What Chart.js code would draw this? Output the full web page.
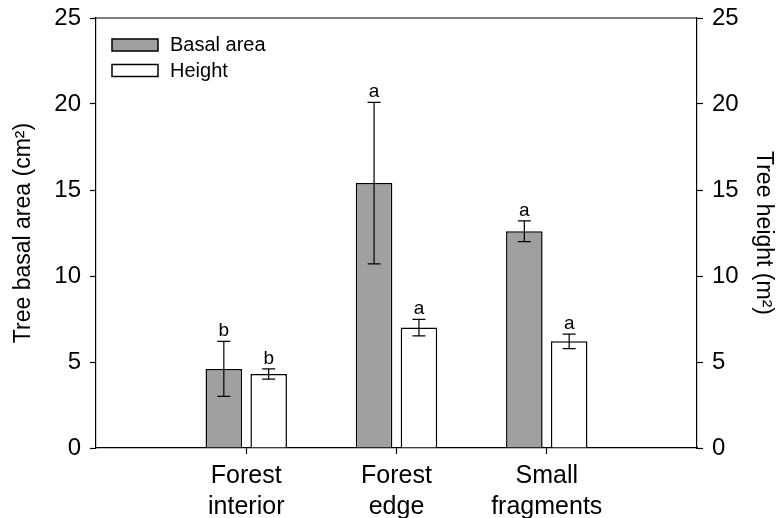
<!DOCTYPE html>
<html>
<head>
<meta charset="utf-8">
<script src="https://cdn.jsdelivr.net/npm/chart.js@4"></script>
<style>
  html, body { margin: 0; padding: 0; background: #fff; }
  #wrap { width: 783px; height: 518px; }
</style>
</head>
<body>
<div id="wrap"><canvas id="chart" width="783" height="518"></canvas></div>
<script>
// Data
const categories = [['Forest', 'interior'], ['Forest', 'edge'], ['Small', 'fragments']];
const basalArea = [4.6, 15.4, 12.6];
const basalErr = [1.6, 4.7, 0.6];
const basalLetters = ['b', 'a', 'a'];
const treeHeight = [4.3, 7.0, 6.2];
const heightErr = [0.3, 0.48, 0.42];
const heightLetters = ['b', 'a', 'a'];
const yTicks = [0, 5, 10, 15, 20, 25];

// empty slot on both sides so the groups sit at 1, 2, 3 on a 0..4 axis
const pad = arr => [null, ...arr, null];
const labels = ['', ...categories, ''];

const FONT = "'Liberation Sans', Arial, sans-serif";

// error bars + significance letters
const errorBarPlugin = {
    id: 'errorBars',
    afterDatasetsDraw(chart) {
        const ctx = chart.ctx;
        ctx.save();
        ctx.strokeStyle = '#000';
        ctx.fillStyle = '#000';
        ctx.lineWidth = 1.2;
        ctx.font = '19px ' + FONT;
        ctx.textAlign = 'center';
        ctx.textBaseline = 'alphabetic';
        chart.data.datasets.forEach((ds, i) => {
            const meta = chart.getDatasetMeta(i);
            const scale = chart.scales[ds.yAxisID];
            meta.data.forEach((bar, j) => {
                const v = ds.data[j];
                if (v == null) return;
                const e = ds.errors[j];
                const x = bar.x;
                const yTop = scale.getPixelForValue(v + e);
                const yBot = scale.getPixelForValue(v - e);
                ctx.beginPath();
                ctx.moveTo(x, yTop); ctx.lineTo(x, yBot);
                ctx.moveTo(x - 6.5, yTop); ctx.lineTo(x + 6.5, yTop);
                ctx.moveTo(x - 6.5, yBot); ctx.lineTo(x + 6.5, yBot);
                ctx.stroke();
                ctx.fillText(ds.letters[j], x, yTop - 5);
            });
        });
        ctx.restore();
    }
};

// top frame line and legend inside the plot
const framePlugin = {
    id: 'frame',
    afterDraw(chart) {
        const { ctx, chartArea } = chart;
        ctx.save();
        ctx.strokeStyle = '#000';
        ctx.lineWidth = 1.2;
        ctx.beginPath();
        ctx.moveTo(chartArea.left, chartArea.top);
        ctx.lineTo(chartArea.right, chartArea.top);
        ctx.stroke();

        ctx.font = '20px ' + FONT;
        ctx.textBaseline = 'middle';
        ctx.textAlign = 'left';
        chart.data.datasets.forEach((ds, i) => {
            const bx = chartArea.left + 16;
            const by = chartArea.top + 21 + i * 25.5;
            ctx.fillStyle = ds.backgroundColor;
            ctx.fillRect(bx, by, 46, 12);
            ctx.lineWidth = 1.5;
            ctx.strokeRect(bx, by, 46, 12);
            ctx.fillStyle = '#000';
            ctx.fillText(ds.label, bx + 58, by + 6.5);
        });
        ctx.restore();
    }
};

// keep the plot box fixed: no extra room for half tick labels
const fixY = width => s => {
    s.width = width;
    s.paddingTop = 0;
    s.paddingBottom = 0;
};

new Chart(document.getElementById('chart'), {
    type: 'bar',
    data: {
        labels: labels,
        datasets: [{
            label: 'Basal area',
            data: pad(basalArea),
            errors: pad(basalErr),
            letters: pad(basalLetters),
            backgroundColor: '#a0a0a0',
            borderColor: '#000',
            borderWidth: 1.5,
            yAxisID: 'y'
        }, {
            label: 'Height',
            data: pad(treeHeight),
            errors: pad(heightErr),
            letters: pad(heightLetters),
            backgroundColor: '#ffffff',
            borderColor: '#000',
            borderWidth: 1.5,
            yAxisID: 'y2'
        }]
    },
    options: {
        responsive: false,
        animation: false,
        categoryPercentage: 0.597,
        barPercentage: 0.815,
        layout: { padding: { top: 18, right: 0, left: 0, bottom: 0 } },
        plugins: {
            legend: { display: false },
            tooltip: { enabled: false }
        },
        scales: {
            x: {
                offset: false,
                grid: {
                    offset: false,
                    drawOnChartArea: false,
                    tickLength: 6,
                    tickColor: c => (c.index === 0 || c.index === labels.length - 1) ? 'rgba(0,0,0,0)' : '#000',
                    tickWidth: 1.2
                },
                border: { color: '#000', width: 1.2 },
                ticks: {
                    color: '#000',
                    font: { family: FONT, size: 25, lineHeight: 1.22 },
                    padding: 7,
                    maxRotation: 0,
                    autoSkip: false
                },
                afterFit: s => { s.height = 70; s.paddingLeft = 0; s.paddingRight = 0; }
            },
            y: {
                position: 'left',
                min: 0,
                max: 25,
                afterBuildTicks: s => { s.ticks = yTicks.map(v => ({ value: v })); },
                grid: { drawOnChartArea: false, tickLength: 6, tickColor: '#000', tickWidth: 1.2 },
                border: { color: '#000', width: 1.2 },
                ticks: { color: '#000', font: { family: FONT, size: 24 }, padding: 9 },
                title: {
                    display: true,
                    text: 'Tree basal area (cm²)',
                    color: '#000',
                    font: { family: FONT, size: 23 },
                    padding: { top: 10, bottom: 0 }
                },
                afterFit: fixY(96)
            },
            y2: {
                position: 'right',
                min: 0,
                max: 25,
                afterBuildTicks: s => { s.ticks = yTicks.map(v => ({ value: v })); },
                grid: { drawOnChartArea: false, tickLength: 6, tickColor: '#000', tickWidth: 1.2 },
                border: { color: '#000', width: 1.2 },
                ticks: { color: '#000', font: { family: FONT, size: 24 }, padding: 9 },
                title: {
                    display: true,
                    text: 'Tree height (m²)',
                    color: '#000',
                    font: { family: FONT, size: 23 },
                    padding: { top: 6, bottom: 0 }
                },
                afterFit: fixY(86)
            }
        }
    },
    plugins: [errorBarPlugin, framePlugin]
});
</script>
</body>
</html>
